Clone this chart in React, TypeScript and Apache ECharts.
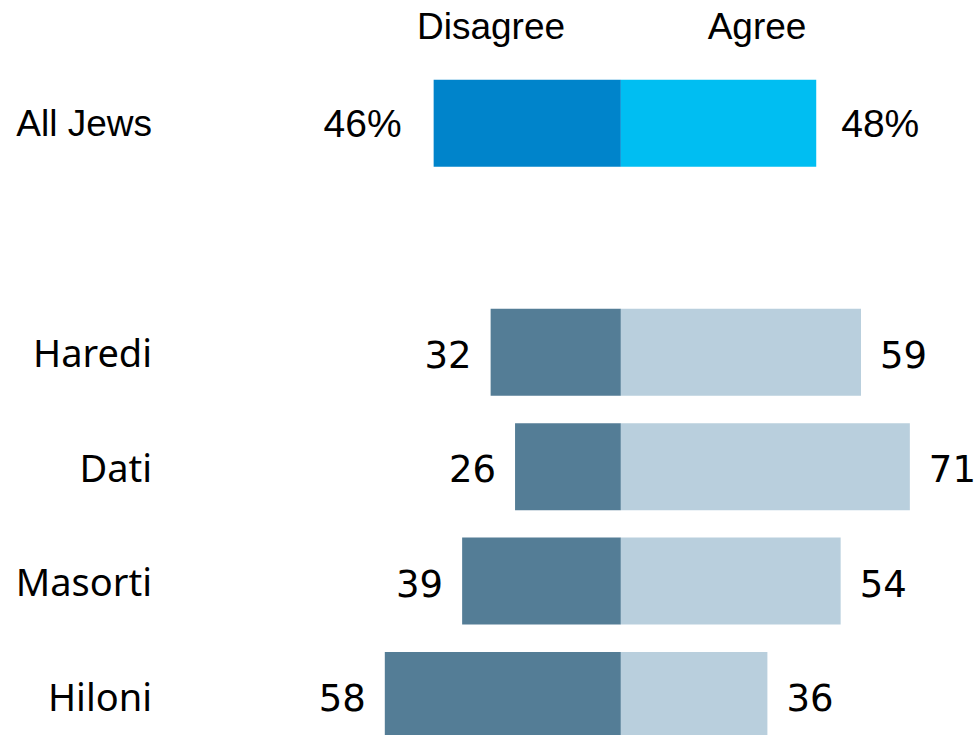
import React, { useEffect, useRef } from "react";
import * as echarts from "echarts";

const categories = ["All Jews", "", "Haredi", "Dati", "Masorti", "Hiloni"];
const disagree: (number | null)[] = [46, null, 32, 26, 39, 58];
const agree: (number | null)[] = [48, null, 59, 71, 54, 36];
const headers = ["Disagree", "Agree"];

const TOP_FONT = '"Liberation Sans", Arial, sans-serif';
const SUB_FONT = '"Noto Sans", sans-serif';
const NUM_FONT = '"DejaVu Sans", sans-serif';

export default function App() {
  const ref = useRef<HTMLDivElement>(null);
  useEffect(() => {
    if (!ref.current) return;
    const chart = echarts.init(ref.current, undefined, { renderer: "svg" });
    const isTop = (i: number) => i === 0;
    const mkData = (vals: (number | null)[], sign: number, colors: [string, string]) =>
      vals.map((v, i) => {
        if (v == null) return "-";
        return {
          value: sign * v,
          itemStyle: { color: isTop(i) ? colors[0] : colors[1] },
          label: {
            show: true,
            distance: isTop(i) ? (sign < 0 ? 32 : 25) : 19,
            fontFamily: isTop(i) ? TOP_FONT : NUM_FONT,
            fontSize: isTop(i) ? 39 : 37,
            offset: isTop(i) ? [0, 0] : [0, 3],
            color: "#000",
            formatter: isTop(i) ? `${v}%` : `${v}`,
          },
        };
      });
    chart.setOption({
      animation: false,
      grid: { left: 152, right: 0, top: 66, height: 686.8, containLabel: false },
      xAxis: {
        type: "value",
        min: -115.2,
        max: 87.5,
        show: false,
        splitLine: { show: false },
      },
      yAxis: {
        type: "category",
        inverse: true,
        data: categories.map((c, i) => ({
          value: c,
          textStyle: isTop(i)
            ? { fontFamily: TOP_FONT, fontSize: 37, color: "#000", padding: [3, 0, 0, 0] }
            : { fontFamily: SUB_FONT, fontSize: 38, color: "#000", padding: [6, 0, 0, 0] },
        })),
        axisLine: { show: false, onZero: false },
        axisTick: { show: false },
        splitLine: { show: false },
        axisLabel: { margin: 0, align: "right" },
      },
      graphic: [
        {
          type: "text",
          x: 491,
          y: 26,
          style: {
            text: headers[0],
            align: "center",
            verticalAlign: "middle",
            fontFamily: TOP_FONT,
            fontSize: 37,
            fill: "#000",
          },
        },
        {
          type: "text",
          x: 757,
          y: 26,
          style: {
            text: headers[1],
            align: "center",
            verticalAlign: "middle",
            fontFamily: TOP_FONT,
            fontSize: 37,
            fill: "#000",
          },
        },
      ],
      series: [
        {
          name: headers[0],
          type: "bar",
          barWidth: 87,
          barGap: "-100%",
          label: { show: true, position: "left" },
          data: mkData(disagree, -1, ["#0084CB", "#547D96"]),
        },
        {
          name: headers[1],
          type: "bar",
          barWidth: 87,
          barGap: "-100%",
          label: { show: true, position: "right" },
          data: mkData(agree, 1, ["#00BEF2", "#B9CFDD"]),
        },
      ],
    });
    return () => chart.dispose();
  }, []);
  return (
    <div
      style={{ position: "absolute", left: 0, top: 0, width: 977, height: 735, overflow: "hidden", background: "#fff" }}
    >
      <div ref={ref} style={{ width: 977, height: 770 }} />
    </div>
  );
}
